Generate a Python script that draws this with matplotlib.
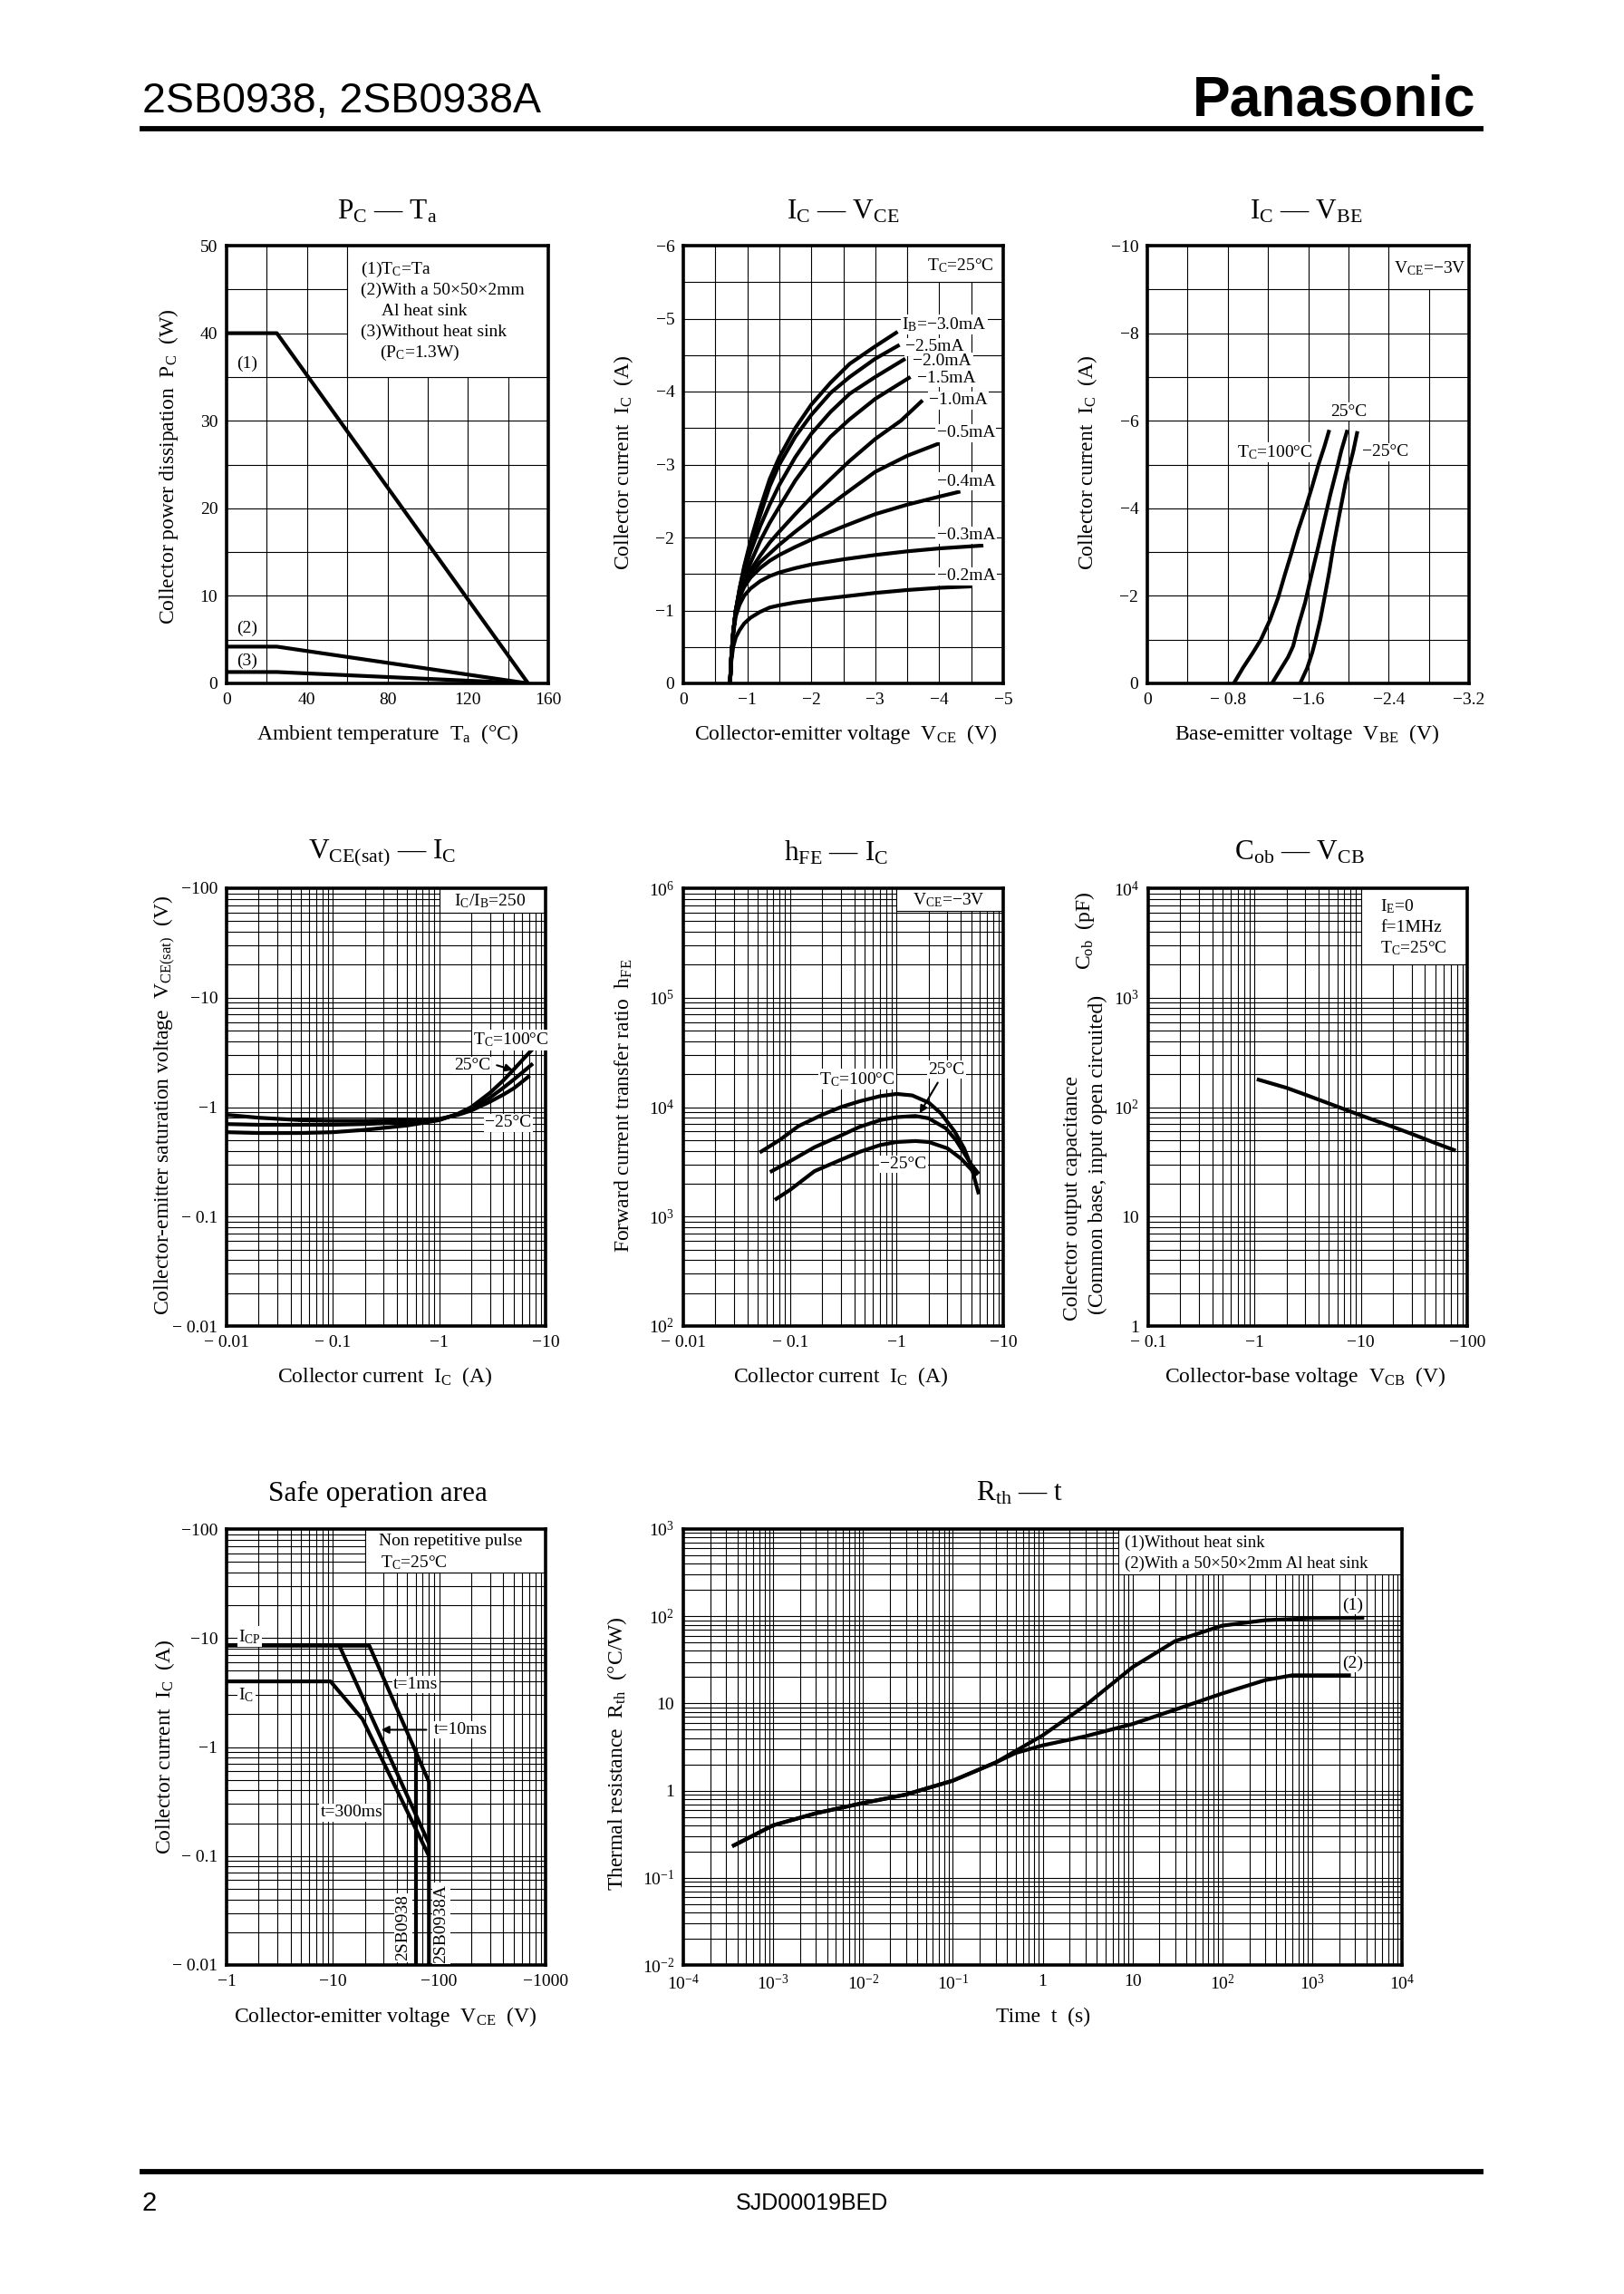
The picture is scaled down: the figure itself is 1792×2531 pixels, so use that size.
import numpy as np
import matplotlib
matplotlib.use("Agg")
import matplotlib.pyplot as plt
from matplotlib.lines import Line2D
from matplotlib.patches import Rectangle
from matplotlib.ticker import NullFormatter

plt.rcParams["font.family"] = ["Liberation Serif", "DejaVu Serif"]
plt.rcParams["mathtext.fontset"] = "custom"
plt.rcParams["mathtext.rm"] = "Liberation Serif"
plt.rcParams["mathtext.it"] = "Liberation Serif:italic"
plt.rcParams["mathtext.bf"] = "Liberation Serif:bold"

W, H = 1792, 2531
M = "\u2212"

# ---------------- data ----------------
# PC - Ta
ta = [0, 25, 150]
pc_tc = [40, 40, 0]
pc_sink = [4.2, 4.2, 0]
pc_free = [1.3, 1.3, 0]

# IC - VCE, magnitudes (plotted negative)
ib_names = ["I$_\\mathrm{B}$=" + M + "3.0mA", M + "2.5mA", M + "2.0mA", M + "1.5mA",
            M + "1.0mA", M + "0.5mA", M + "0.4mA", M + "0.3mA", M + "0.2mA"]
ib_label_x = [3.42, 3.47, 3.59, 3.66, 3.84, 3.96, 3.96, 3.96, 3.96]
ib_label_y = [4.92, 4.61, 4.41, 4.18, 3.88, 3.43, 2.77, 2.03, 1.47]
vce_curves = [
    [0.73, 0.75, 0.78, 0.82, 0.88, 0.95, 1.05, 1.2, 1.35, 1.5, 1.75, 2.0, 2.3, 2.6, 3.0, 3.35],
    [0.73, 0.75, 0.78, 0.82, 0.88, 0.95, 1.05, 1.2, 1.35, 1.5, 1.75, 2.0, 2.3, 2.6, 3.0, 3.38],
    [0.73, 0.75, 0.78, 0.82, 0.88, 0.95, 1.05, 1.2, 1.35, 1.5, 1.75, 2.0, 2.3, 2.6, 3.0, 3.47],
    [0.73, 0.75, 0.78, 0.82, 0.88, 0.95, 1.05, 1.2, 1.35, 1.5, 1.75, 2.0, 2.3, 2.6, 3.0, 3.55],
    [0.73, 0.75, 0.78, 0.82, 0.88, 0.95, 1.05, 1.2, 1.35, 1.5, 1.75, 2.0, 2.3, 2.6, 3.0, 3.4, 3.74],
    [0.73, 0.75, 0.78, 0.82, 0.88, 0.95, 1.05, 1.2, 1.35, 1.5, 1.75, 2.0, 2.5, 3.0, 3.5, 4.0],
    [0.73, 0.75, 0.78, 0.82, 0.88, 0.95, 1.05, 1.2, 1.35, 1.5, 1.75, 2.0, 2.5, 3.0, 3.5, 4.0, 4.33],
    [0.73, 0.75, 0.78, 0.82, 0.88, 0.95, 1.05, 1.2, 1.35, 1.5, 1.75, 2.0, 2.5, 3.0, 3.5, 4.0, 4.69],
    [0.73, 0.75, 0.78, 0.82, 0.88, 0.95, 1.05, 1.2, 1.35, 1.5, 1.75, 2.0, 2.5, 3.0, 3.5, 4.0, 4.51],
]
ic_curves = [
    [0, 0.35, 0.7, 1.0, 1.3, 1.6, 1.95, 2.4, 2.8, 3.1, 3.5, 3.82, 4.12, 4.38, 4.62, 4.82],
    [0, 0.35, 0.7, 1.0, 1.3, 1.58, 1.9, 2.3, 2.7, 3.0, 3.38, 3.68, 3.98, 4.2, 4.45, 4.64],
    [0, 0.35, 0.7, 1.0, 1.28, 1.52, 1.8, 2.15, 2.45, 2.72, 3.1, 3.42, 3.72, 3.97, 4.2, 4.45],
    [0, 0.35, 0.7, 1.0, 1.25, 1.45, 1.65, 1.95, 2.2, 2.42, 2.78, 3.08, 3.38, 3.62, 3.9, 4.2],
    [0, 0.35, 0.7, 1.0, 1.22, 1.38, 1.55, 1.75, 1.93, 2.08, 2.32, 2.55, 2.8, 3.05, 3.35, 3.6, 3.88],
    [0, 0.35, 0.7, 1.0, 1.2, 1.35, 1.5, 1.66, 1.78, 1.9, 2.08, 2.25, 2.58, 2.9, 3.12, 3.29],
    [0, 0.35, 0.7, 1.0, 1.18, 1.32, 1.45, 1.58, 1.68, 1.76, 1.87, 1.97, 2.15, 2.32, 2.45, 2.56, 2.63],
    [0, 0.35, 0.68, 0.92, 1.08, 1.2, 1.3, 1.4, 1.47, 1.52, 1.58, 1.63, 1.7, 1.76, 1.81, 1.85, 1.89],
    [0, 0.3, 0.5, 0.63, 0.73, 0.82, 0.9, 0.98, 1.04, 1.07, 1.11, 1.14, 1.19, 1.24, 1.28, 1.31, 1.33],
]

# IC - VBE, magnitudes
vbe_100 = [0.86, 0.95, 1.05, 1.13, 1.22, 1.30, 1.37, 1.43, 1.50, 1.58, 1.64, 1.70, 1.76, 1.81]
icb_100 = [0, 0.35, 0.7, 1.0, 1.45, 1.95, 2.5, 2.95, 3.5, 4.05, 4.5, 4.98, 5.4, 5.79]
vbe_25 = [1.24, 1.32, 1.40, 1.45, 1.50, 1.57, 1.63, 1.70, 1.76, 1.82, 1.88, 1.93, 1.99]
icb_25 = [0, 0.3, 0.6, 0.85, 1.3, 1.85, 2.45, 3.12, 3.72, 4.31, 4.85, 5.32, 5.79]
vbe_m25 = [1.52, 1.59, 1.64, 1.67, 1.72, 1.76, 1.81, 1.85, 1.91, 1.97, 2.01, 2.05, 2.09]
icb_m25 = [0, 0.35, 0.7, 0.96, 1.45, 1.93, 2.55, 3.12, 3.85, 4.56, 4.95, 5.32, 5.76]

# VCE(sat) - IC, magnitudes
ic_sat = [0.01, 0.02, 0.05, 0.1, 0.2, 0.5, 1, 1.5, 2, 3, 4, 5, 6.5, 8]
vsat_100 = [0.59, 0.58, 0.58, 0.59, 0.62, 0.68, 0.76, 0.87, 1.0, 1.35, 1.75, 2.2, 2.9, 3.6]
ic_sat25 = [0.01, 0.02, 0.05, 0.1, 0.2, 0.5, 1, 1.5, 2, 3, 4, 5, 6.5, 7.6]
vsat_25 = [0.70, 0.69, 0.69, 0.69, 0.70, 0.73, 0.77, 0.86, 0.96, 1.22, 1.5, 1.78, 2.2, 2.5]
ic_satm25 = [0.01, 0.02, 0.05, 0.1, 0.2, 0.5, 1, 1.5, 2, 3, 4, 5, 6, 7.1]
vsat_m25 = [0.85, 0.80, 0.76, 0.75, 0.75, 0.76, 0.78, 0.85, 0.93, 1.12, 1.3, 1.48, 1.7, 1.94]

# hFE - IC, magnitudes
ic_h100 = [0.052, 0.08, 0.12, 0.2, 0.3, 0.45, 0.7, 1.0, 1.4, 2.0, 2.6, 3.5, 4.3, 5.0, 5.9]
hfe_100 = [3850, 5000, 6700, 8500, 10000, 11300, 12600, 13200, 12800, 11000, 8800, 6000, 4200, 2900, 1600]
ic_h25 = [0.065, 0.1, 0.17, 0.3, 0.45, 0.7, 1.0, 1.5, 2.0, 2.9, 3.6, 4.3, 5.0, 5.9]
hfe_25 = [2550, 3200, 4300, 5500, 6600, 7600, 8100, 8300, 7900, 6400, 5000, 3800, 3000, 2450]
ic_hm25 = [0.072, 0.1, 0.17, 0.3, 0.45, 0.7, 1.0, 1.5, 2.0, 3.0, 4.0, 5.0, 5.6]
hfe_m25 = [1420, 1750, 2600, 3300, 3900, 4500, 4800, 4900, 4800, 4200, 3400, 2700, 2350]

# Cob - VCB
vcb = [1.05, 2, 3, 5, 10, 20, 30, 50, 78]
cob = [180, 150, 130, 108, 84, 66, 57, 47, 40]

# Safe operation area, magnitudes
soa_1ms_v = [1, 22, 80, 80]
soa_1ms_i = [8.5, 8.5, 0.48, 0.01]
soa_10ms_v = [11.5, 80]
soa_10ms_i = [8.5, 0.13]
soa_300ms_v = [1, 9.5, 19, 80]
soa_300ms_i = [4.0, 4.0, 1.8, 0.1]
soa_60v_v = [60, 60]
soa_60v_i = [1.0, 0.01]

# Rth - t
t1 = [3.5e-4, 1e-3, 3e-3, 1e-2, 3e-2, 0.1, 0.3, 1, 3, 10, 30, 100, 300, 1000, 3800]
rth1 = [0.23, 0.4, 0.55, 0.72, 0.9, 1.3, 2.1, 4.3, 9.5, 26, 52, 78, 90, 95, 96]
t2 = [3.5e-4, 1e-3, 3e-3, 1e-2, 3e-2, 0.1, 0.3, 0.5, 1, 3, 10, 30, 100, 300, 600, 2700]
rth2 = [0.23, 0.4, 0.55, 0.72, 0.9, 1.3, 2.1, 2.7, 3.3, 4.2, 5.8, 8.5, 13, 18.5, 21, 21]

# ---------------- figure ----------------
fig = plt.figure(figsize=(W / 100, H / 100), dpi=100)
LW = 3.0
TICK_FS = 14
LAB_FS = 17
NOTE_FS = 14
TITLE_FS = 22.5
WHITE = dict(facecolor="white", edgecolor="none", pad=1)
NARROW = ["Liberation Sans Narrow", "Liberation Sans", "DejaVu Sans"]


def ftext(x, y, s, **kw):
    return fig.text(x / W, 1 - y / H, s, **kw)


def hline(y, x0, x1, lw):
    fig.add_artist(Line2D([x0 / W, x1 / W], [1 - y / H, 1 - y / H],
                          transform=fig.transFigure, color="black", lw=lw))


def make_axes(x0, y0, x1, y1):
    ax = fig.add_axes([x0 / W, 1 - y1 / H, (x1 - x0) / W, (y1 - y0) / H])
    for s in ax.spines.values():
        s.set_linewidth(2.6)
        s.set_zorder(4)
    ax.tick_params(which="both", length=0, labelsize=TICK_FS, pad=7)
    ax.set_axisbelow(True)
    return ax


def lin_grid(ax, xs, xl, ys, yl):
    ax.set_xticks(xs, labels=xl)
    ax.set_yticks(ys, labels=yl)
    ax.set_xlim(xs[0], xs[-1])
    ax.set_ylim(ys[0], ys[-1])
    ax.grid(True, color="black", lw=0.8)


def log_grid(ax, xdec, xl, ydec, yl):
    ax.set_xscale("log")
    ax.set_yscale("log")
    ax.set_xlim(xdec[0], xdec[-1])
    ax.set_ylim(ydec[0], ydec[-1])
    ax.set_xticks(xdec, labels=xl)
    ax.set_yticks(ydec, labels=yl)
    ax.set_xticks([m * d for d in xdec[:-1] for m in range(2, 10)], minor=True)
    ax.set_yticks([m * d for d in ydec[:-1] for m in range(2, 10)], minor=True)
    ax.xaxis.set_minor_formatter(NullFormatter())
    ax.yaxis.set_minor_formatter(NullFormatter())
    ax.grid(True, which="both", color="black", lw=0.8)


def white_box(ax, x0, y0, x1, y1):
    ax.add_patch(Rectangle((x0, y0), x1 - x0, y1 - y0, facecolor="white",
                           edgecolor="black", lw=0.8, zorder=1))


def curve(ax, x, y):
    ax.plot(x, y, color="black", lw=LW, solid_capstyle="butt", zorder=3)


# header / footer
ftext(157, 124, "2SB0938, 2SB0938A", fontsize=33.5, va="baseline", family=NARROW)
ftext(1628, 127, "Panasonic", fontsize=45, fontweight="bold", ha="right", va="baseline",
      family=["Liberation Sans", "DejaVu Sans"])
hline(142, 157, 1634, 4.2)
hline(2396, 157, 1634, 4.2)
ftext(157, 2431, "2", fontsize=21, va="center", family=NARROW)
ftext(896, 2431, "SJD00019BED", fontsize=18, ha="center", va="center", family=NARROW)

# ---- 1: PC - Ta ----
ax = make_axes(250, 271, 605, 754)
lin_grid(ax, list(range(0, 161, 20)), ["0", "", "40", "", "80", "", "120", "", "160"],
         list(range(0, 51, 5)), ["0", "", "10", "", "20", "", "30", "", "40", "", "50"])
white_box(ax, 60, 35, 160, 50)
curve(ax, ta, pc_tc)
curve(ax, ta, pc_sink)
curve(ax, ta, pc_free)
for txt, xx, yy in [("(1)T$_\\mathrm{C}$=Ta", 66.5, 47.3), ("(2)With a 50×50×2mm", 66.5, 44.9),
                    ("Al heat sink", 77, 42.5), ("(3)Without heat sink", 66.5, 40.1),
                    ("(P$_\\mathrm{C}$=1.3W)", 76, 37.7)]:
    ax.text(xx, yy, txt, fontsize=NOTE_FS, va="center", zorder=5)
ax.text(5, 36.5, "(1)", fontsize=NOTE_FS, va="center", zorder=5)
ax.text(5, 6.3, "(2)", fontsize=NOTE_FS, va="center", zorder=5)
ax.text(5, 2.6, "(3)", fontsize=NOTE_FS, va="center", zorder=5)
ftext(427, 234, "P$_\\mathrm{C}$ — T$_\\mathrm{a}$", fontsize=TITLE_FS, ha="center", va="center")
ftext(428, 810, "Ambient temperature  T$_\\mathrm{a}$  (°C)", fontsize=LAB_FS, ha="center", va="center")
ftext(186, 515, "Collector power dissipation  P$_\\mathrm{C}$  (W)", fontsize=LAB_FS,
      rotation=90, ha="center", va="center")

# ---- 2: IC - VCE ----
ax = make_axes(754, 271, 1107, 754)
xs = [-0.5 * k for k in range(11)]
ys = [-0.5 * k for k in range(13)]
lin_grid(ax, xs, ["0" if k == 0 else (M + str(k // 2) if k % 2 == 0 else "") for k in range(11)],
         ys, ["0" if k == 0 else (M + str(k // 2) if k % 2 == 0 else "") for k in range(13)])
white_box(ax, -3.5, -5.5, -5, -6)
ax.text(-4.85, -5.73, "T$_\\mathrm{C}$=25°C", fontsize=NOTE_FS, ha="right", va="center", zorder=5)
for vv, ii, nm, lx, ly in zip(vce_curves, ic_curves, ib_names, ib_label_x, ib_label_y):
    curve(ax, -np.array(vv), -np.array(ii))
    ax.text(-lx, -ly, nm, fontsize=NOTE_FS, va="center", bbox=WHITE, zorder=5)
ftext(930, 234, "I$_\\mathrm{C}$ — V$_\\mathrm{CE}$", fontsize=TITLE_FS, ha="center", va="center")
ftext(933, 810, "Collector-emitter voltage  V$_\\mathrm{CE}$  (V)", fontsize=LAB_FS, ha="center", va="center")
ftext(688, 510, "Collector current  I$_\\mathrm{C}$  (A)", fontsize=LAB_FS,
      rotation=90, ha="center", va="center")

# ---- 3: IC - VBE ----
ax = make_axes(1266, 271, 1621, 754)
xs = [-0.4 * k for k in range(9)]
xl = ["0", "", M + " 0.8", "", M + "1.6", "", M + "2.4", "", M + "3.2"]
ys = [-1.0 * k for k in range(11)]
yl = ["0" if k == 0 else (M + str(k) if k % 2 == 0 else "") for k in range(11)]
lin_grid(ax, xs, xl, ys, yl)
white_box(ax, -2.4, -9, -3.2, -10)
ax.text(-2.45, -9.47, "V$_\\mathrm{CE}$=" + M + "3V", fontsize=NOTE_FS, va="center", zorder=5)
curve(ax, -np.array(vbe_100), -np.array(icb_100))
curve(ax, -np.array(vbe_25), -np.array(icb_25))
curve(ax, -np.array(vbe_m25), -np.array(icb_m25))
ax.text(-0.89, -5.28, "T$_\\mathrm{C}$=100°C", fontsize=NOTE_FS, va="center", bbox=WHITE, zorder=5)
ax.text(-1.82, -6.21, "25°C", fontsize=NOTE_FS, va="center", bbox=WHITE, zorder=5)
ax.text(-2.14, -5.28, M + "25°C", fontsize=NOTE_FS, va="center", bbox=WHITE, zorder=5)
ftext(1441, 234, "I$_\\mathrm{C}$ — V$_\\mathrm{BE}$", fontsize=TITLE_FS, ha="center", va="center")
ftext(1442, 810, "Base-emitter voltage  V$_\\mathrm{BE}$  (V)", fontsize=LAB_FS, ha="center", va="center")
ftext(1200, 510, "Collector current  I$_\\mathrm{C}$  (A)", fontsize=LAB_FS,
      rotation=90, ha="center", va="center")

# ---- 4: VCE(sat) - IC ----
ax = make_axes(250, 980, 602, 1463)
log_grid(ax, [0.01, 0.1, 1, 10], [M + " 0.01", M + " 0.1", M + "1", M + "10"],
         [0.01, 0.1, 1, 10, 100], [M + " 0.01", M + " 0.1", M + "1", M + "10", M + "100"])
white_box(ax, 1, 60, 10, 100)
ax.text(3.0, 77, "I$_\\mathrm{C}$/I$_\\mathrm{B}$=250", fontsize=NOTE_FS, ha="center", va="center", zorder=5)
curve(ax, ic_sat, vsat_100)
curve(ax, ic_sat25, vsat_25)
curve(ax, ic_satm25, vsat_m25)
ax.text(2.1, 4.1, "T$_\\mathrm{C}$=100°C", fontsize=NOTE_FS, va="center", bbox=WHITE, zorder=5)
ax.text(1.37, 2.4, "25°C", fontsize=NOTE_FS, va="center", bbox=WHITE, zorder=5)
ax.annotate("", xy=(5.2, 2.15), xytext=(3.3, 2.45),
            arrowprops=dict(arrowstyle="-|>", lw=1.5, color="black", mutation_scale=12), zorder=5)
ax.text(2.7, 0.72, M + "25°C", fontsize=NOTE_FS, va="center", bbox=WHITE, zorder=5)
ftext(422, 941, "V$_\\mathrm{CE(sat)}$ — I$_\\mathrm{C}$", fontsize=TITLE_FS, ha="center", va="center")
ftext(425, 1519, "Collector current  I$_\\mathrm{C}$  (A)", fontsize=LAB_FS, ha="center", va="center")
ftext(182, 1220, "Collector-emitter saturation voltage  V$_\\mathrm{CE(sat)}$  (V)", fontsize=LAB_FS,
      rotation=90, ha="center", va="center")

# ---- 5: hFE - IC ----
ax = make_axes(754, 980, 1107, 1463)
log_grid(ax, [0.01, 0.1, 1, 10], [M + " 0.01", M + " 0.1", M + "1", M + "10"],
         [1e2, 1e3, 1e4, 1e5, 1e6], ["10$^{2}$", "10$^{3}$", "10$^{4}$", "10$^{5}$", "10$^{6}$"])
white_box(ax, 1, 6.2e5, 10, 1e6)
ax.text(3.1, 7.8e5, "V$_\\mathrm{CE}$=" + M + "3V", fontsize=NOTE_FS, ha="center", va="center", zorder=5)
curve(ax, ic_h100, hfe_100)
curve(ax, ic_h25, hfe_25)
curve(ax, ic_hm25, hfe_m25)
ax.text(0.19, 18000, "T$_\\mathrm{C}$=100°C", fontsize=NOTE_FS, va="center", bbox=WHITE, zorder=5)
ax.text(1.97, 22000, "25°C", fontsize=NOTE_FS, va="center", bbox=WHITE, zorder=5)
ax.annotate("", xy=(1.6, 8400), xytext=(2.5, 17500),
            arrowprops=dict(arrowstyle="-|>", lw=1.5, color="black", mutation_scale=12), zorder=5)
ax.text(0.7, 3000, M + "25°C", fontsize=NOTE_FS, va="center", bbox=WHITE, zorder=5)
ftext(923, 941, "h$_\\mathrm{FE}$ — I$_\\mathrm{C}$", fontsize=TITLE_FS, ha="center", va="center")
ftext(928, 1519, "Collector current  I$_\\mathrm{C}$  (A)", fontsize=LAB_FS, ha="center", va="center")
ftext(688, 1220, "Forward current transfer ratio  h$_\\mathrm{FE}$", fontsize=LAB_FS,
      rotation=90, ha="center", va="center")

# ---- 6: Cob - VCB ----
ax = make_axes(1267, 980, 1619, 1463)
log_grid(ax, [0.1, 1, 10, 100], [M + " 0.1", M + "1", M + "10", M + "100"],
         [1, 10, 100, 1000, 10000], ["1", "10", "10$^{2}$", "10$^{3}$", "10$^{4}$"])
white_box(ax, 10, 2000, 100, 10000)
for txt, yy in [("I$_\\mathrm{E}$=0", 6800), ("f=1MHz", 4400), ("T$_\\mathrm{C}$=25°C", 2830)]:
    ax.text(15.3, yy, txt, fontsize=NOTE_FS, va="center", zorder=5)
curve(ax, vcb, cob)
ftext(1434, 941, "C$_\\mathrm{ob}$ — V$_\\mathrm{CB}$", fontsize=TITLE_FS, ha="center", va="center")
ftext(1440, 1519, "Collector-base voltage  V$_\\mathrm{CB}$  (V)", fontsize=LAB_FS, ha="center", va="center")
ftext(1183, 1322, "Collector output capacitance", fontsize=LAB_FS, rotation=90, ha="center", va="center")
ftext(1211, 1274, "(Common base, input open circuited)", fontsize=LAB_FS, rotation=90,
      ha="center", va="center")
ftext(1197, 1027, "C$_\\mathrm{ob}$  (pF)", fontsize=LAB_FS, rotation=90, ha="center", va="center")

# ---- 7: Safe operation area ----
ax = make_axes(250, 1687, 602, 2168)
log_grid(ax, [1, 10, 100, 1000], [M + "1", M + "10", M + "100", M + "1000"],
         [0.01, 0.1, 1, 10, 100], [M + " 0.01", M + " 0.1", M + "1", M + "10", M + "100"])
white_box(ax, 20, 40, 1000, 100)
ax.text(27, 77, "Non repetitive pulse", fontsize=NOTE_FS, va="center", zorder=5)
ax.text(28, 49, "T$_\\mathrm{C}$=25°C", fontsize=NOTE_FS, va="center", zorder=5)
curve(ax, soa_1ms_v, soa_1ms_i)
curve(ax, soa_10ms_v, soa_10ms_i)
curve(ax, soa_300ms_v, soa_300ms_i)
curve(ax, soa_60v_v, soa_60v_i)
ax.text(1.3, 10.3, "I$_\\mathrm{CP}$", fontsize=NOTE_FS, va="center", bbox=WHITE, zorder=5)
ax.text(1.3, 3.0, "I$_\\mathrm{C}$", fontsize=NOTE_FS, va="center", bbox=WHITE, zorder=5)
ax.text(37, 3.75, "t=1ms", fontsize=NOTE_FS, va="center", bbox=WHITE, zorder=5)
ax.text(89, 1.44, "t=10ms", fontsize=NOTE_FS, va="center", bbox=WHITE, zorder=5)
ax.annotate("", xy=(27, 1.44), xytext=(80, 1.44),
            arrowprops=dict(arrowstyle="-|>", lw=1.5, color="black", mutation_scale=12), zorder=5)
ax.text(7.6, 0.25, "t=300ms", fontsize=NOTE_FS, va="center", bbox=WHITE, zorder=5)
ax.text(46, 0.022, "2SB0938", fontsize=NOTE_FS, rotation=90, ha="center", va="center",
        bbox=WHITE, zorder=5)
ax.text(104, 0.024, "2SB0938A", fontsize=NOTE_FS, rotation=90, ha="center", va="center",
        bbox=WHITE, zorder=5)
ftext(417, 1648, "Safe operation area", fontsize=TITLE_FS, ha="center", va="center")
ftext(425, 2225, "Collector-emitter voltage  V$_\\mathrm{CE}$  (V)", fontsize=LAB_FS, ha="center", va="center")
ftext(182, 1927, "Collector current  I$_\\mathrm{C}$  (A)", fontsize=LAB_FS,
      rotation=90, ha="center", va="center")

# ---- 8: Rth - t ----
ax = make_axes(754, 1687, 1547, 2168)
tdec = [10.0 ** k for k in range(-4, 5)]
tl = ["10$^{-4}$", "10$^{-3}$", "10$^{-2}$", "10$^{-1}$", "1", "10", "10$^{2}$", "10$^{3}$", "10$^{4}$"]
rdec = [10.0 ** k for k in range(-2, 4)]
rl = ["10$^{-2}$", "10$^{-1}$", "1", "10", "10$^{2}$", "10$^{3}$"]
log_grid(ax, tdec, tl, rdec, rl)
white_box(ax, 7, 300, 1e4, 1000)
ax.text(8.1, 690, "(1)Without heat sink", fontsize=13.5, va="center", zorder=5)
ax.text(8.1, 400, "(2)With a 50×50×2mm Al heat sink", fontsize=13.5, va="center", zorder=5)
curve(ax, t1, rth1)
curve(ax, t2, rth2)
ax.text(2800, 134, "(1)", fontsize=NOTE_FS, ha="center", va="center", bbox=WHITE, zorder=5)
ax.text(2800, 29, "(2)", fontsize=NOTE_FS, ha="center", va="center", bbox=WHITE, zorder=5)
ftext(1125, 1648, "R$_\\mathrm{th}$ — t", fontsize=TITLE_FS, ha="center", va="center")
ftext(1151, 2225, "Time  t  (s)", fontsize=LAB_FS, ha="center", va="center")
ftext(681, 1935, "Thermal resistance  R$_\\mathrm{th}$  (°C/W)", fontsize=LAB_FS,
      rotation=90, ha="center", va="center")

fig.savefig("out.png", dpi=100)
